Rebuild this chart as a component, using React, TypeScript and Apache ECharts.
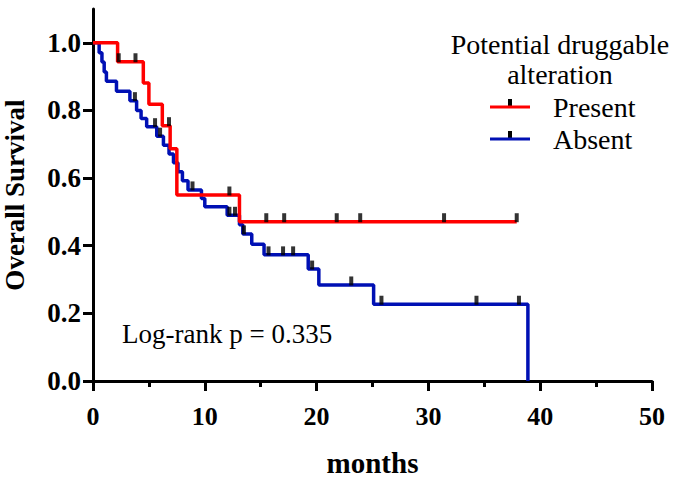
import React, { useEffect, useRef } from 'react';
import * as echarts from 'echarts';

// ---- Data ----
const presentTimes = [0, 2.2, 4.5, 5.0, 6.2, 6.9, 7.5, 13.1, 37.9];
const presentSurvival = [1.0, 0.944, 0.881, 0.818, 0.755, 0.687, 0.55, 0.471, 0.471];
const presentCensored = [2.3, 3.8, 6.8, 12.2, 15.5, 17.1, 21.8, 23.9, 31.4, 37.9];

const absentTimes = [0, 0.55, 0.8, 1.0, 1.2, 2.1, 3.3, 3.9, 4.3, 4.8, 5.7, 6.3, 6.8, 7.2, 7.6, 8.0, 8.5, 9.7, 10.0, 12.0, 13.1, 13.4, 14.2, 15.3, 19.25, 20.2, 25.1, 38.9];
const absentSurvival = [1.0, 0.971, 0.943, 0.914, 0.886, 0.857, 0.829, 0.8, 0.776, 0.752, 0.724, 0.697, 0.671, 0.645, 0.619, 0.592, 0.565, 0.54, 0.515, 0.49, 0.462, 0.435, 0.404, 0.373, 0.331, 0.284, 0.227, 0];
const absentCensored = [3.75, 5.55, 6.0, 8.9, 12.2, 12.7, 13.5, 15.7, 17.0, 17.9, 19.6, 23.1, 25.8, 34.3, 38.1];

const xTickValues = [0, 10, 20, 30, 40, 50];
const yTickValues = [0, 0.2, 0.4, 0.6, 0.8, 1.0];

const seriesNames = ['Present', 'Absent'];
const legendTitle = 'Potential druggable\nalteration';
const pValueText = 'Log-rank p = 0.335';
const xAxisName = 'months';
const yAxisName = 'Overall Survival';

const FONT = '"Liberation Serif", "Times New Roman", serif';
const RED = '#ff0000';
const BLUE = '#0010b4';

function survivalAt(times: number[], surv: number[], t: number): number {
  let s = surv[0];
  for (let i = 0; i < times.length; i++) {
    if (times[i] <= t) s = surv[i];
  }
  return s;
}

export default function App() {
  const ref = useRef<HTMLDivElement>(null);

  useEffect(() => {
    if (!ref.current) return;
    const chart = echarts.init(ref.current, undefined, { renderer: 'svg' });

    const censorStyle = {
      type: 'scatter' as const,
      symbol: 'rect',
      symbolSize: [4, 9],
      symbolOffset: [0, -4],
      itemStyle: { color: '#000' },
      silent: true,
      z: 6,
    };

    chart.setOption({
      animation: false,
      grid: {
        left: 93,
        right: 22,
        top: 9,
        bottom: 101,
        containLabel: false,
        outerBoundsMode: 'none',
      },
      xAxis: {
        type: 'value',
        min: 0,
        max: 50,
        interval: 10,
        name: xAxisName,
        nameLocation: 'middle',
        nameGap: 67,
        nameTextStyle: { fontFamily: FONT, fontSize: 29, fontWeight: 'bold', color: '#000' },
        axisLine: { show: true, onZero: false, lineStyle: { color: '#000', width: 3 } },
        axisTick: { show: true, length: 10, lineStyle: { color: '#000', width: 3 } },
        minorTick: { show: true, splitNumber: 2, length: 6, lineStyle: { color: '#000', width: 3 } },
        splitLine: { show: false },
        minorSplitLine: { show: false },
        axisLabel: {
          customValues: xTickValues,
          margin: 22,
          fontFamily: FONT,
          fontSize: 26,
          lineHeight: 26,
          fontWeight: 'bold',
          color: '#000',
        },
      },
      yAxis: {
        type: 'value',
        min: 0,
        max: 1.1,
        name: yAxisName,
        nameLocation: 'middle',
        nameGap: 65,
        nameTextStyle: { fontFamily: FONT, fontSize: 27, lineHeight: 27, fontWeight: 'bold', color: '#000' },
        axisLine: { show: true, onZero: false, lineStyle: { color: '#000', width: 3 } },
        axisTick: { show: true, customValues: yTickValues, length: 10, lineStyle: { color: '#000', width: 3 } },
        splitLine: { show: false },
        axisLabel: {
          customValues: yTickValues,
          margin: 12,
          fontFamily: FONT,
          fontSize: 27,
          fontWeight: 'bold',
          color: '#000',
          formatter: (v: number) => v.toFixed(1),
        },
      },
      legend: {
        data: seriesNames,
        orient: 'vertical',
        left: 490,
        top: 91,
        padding: 0,
        itemWidth: 40,
        itemHeight: 3,
        itemGap: 0,
        icon: 'rect',
        selectedMode: false,
        textStyle: {
          fontFamily: FONT,
          fontSize: 28,
          lineHeight: 32,
          color: '#000',
          padding: [0, 0, 0, 18],
        },
      },
      graphic: [
        {
          type: 'text',
          x: 560,
          y: 29,
          style: {
            text: legendTitle,
            font: `28px ${FONT}`,
            lineHeight: 30,
            fill: '#000',
            align: 'center',
            verticalAlign: 'top',
          },
        },
        {
          type: 'text',
          x: 122,
          y: 334,
          style: {
            text: pValueText,
            font: `27px ${FONT}`,
            fill: '#000',
            align: 'left',
            verticalAlign: 'middle',
          },
        },
        { type: 'rect', shape: { x: 508, y: 99, width: 4, height: 8 }, style: { fill: '#000' } },
        { type: 'rect', shape: { x: 508, y: 131, width: 4, height: 8 }, style: { fill: '#000' } },
      ],
      series: [
        {
          type: 'line',
          name: seriesNames[1],
          data: absentTimes.map((t, i) => [t, absentSurvival[i]]),
          step: 'end',
          symbol: 'none',
          lineStyle: { color: BLUE, width: 3.5 },
          itemStyle: { color: BLUE },
          z: 3,
        },
        {
          type: 'line',
          name: seriesNames[0],
          data: presentTimes.map((t, i) => [t, presentSurvival[i]]),
          step: 'end',
          symbol: 'none',
          lineStyle: { color: RED, width: 3.5 },
          itemStyle: { color: RED },
          z: 4,
        },
        {
          ...censorStyle,
          name: 'Absent censored',
          data: absentCensored.map((t) => [t, survivalAt(absentTimes, absentSurvival, t)]),
        },
        {
          ...censorStyle,
          name: 'Present censored',
          data: presentCensored.map((t) => [t, survivalAt(presentTimes, presentSurvival, t)]),
        },
      ],
    });

    return () => chart.dispose();
  }, []);

  return (
    <div
      ref={ref}
      style={{ position: 'fixed', left: 0, top: 0, width: 674, height: 482, background: '#fff' }}
    />
  );
}
